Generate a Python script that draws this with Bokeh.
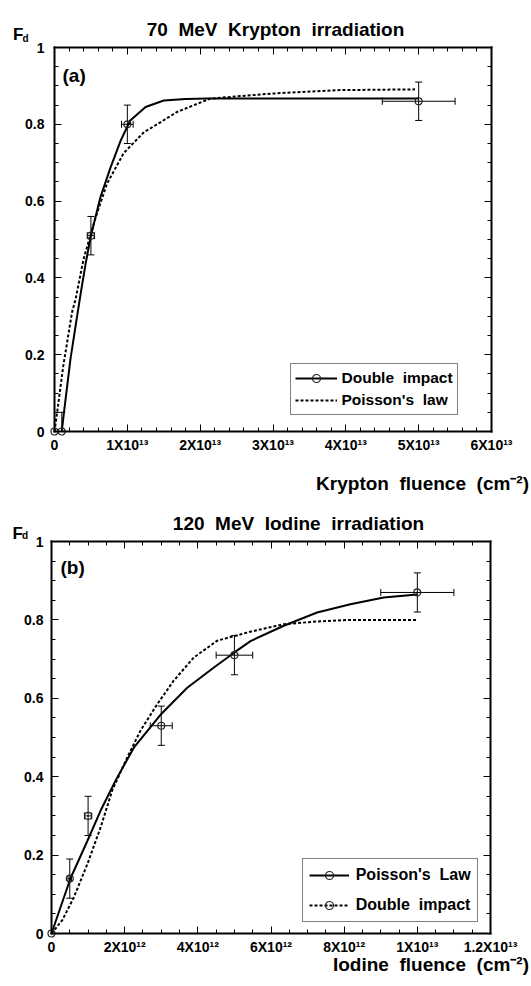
import numpy as np
from bokeh.plotting import figure
from bokeh.models import (FixedTicker, LinearAxis, Label, Legend, LegendItem,
                          CustomJSTickFormatter, Range1d)
from bokeh.layouts import column
from bokeh.embed import file_html
from bokeh.resources import INLINE

FONT = "Liberation Sans"
SP = "\u00a0 "  # wide word gap of the original lettering

# ---------------- Panel (a): 70 MeV Krypton (fluence in units of 1e13 cm^-2)
kr_fluence = [0.0, 0.1, 0.5, 1.0, 5.0]
kr_fd = [0.0, 0.0, 0.51, 0.80, 0.86]
kr_fluence_err = [0.0, 0.0, 0.05, 0.08, 0.5]
kr_fd_err = [0.0, 0.05, 0.05, 0.05, 0.05]

kr_double_x = [0.10, 0.13, 0.22, 0.31, 0.36, 0.43, 0.50, 0.63, 0.77, 0.91,
               1.04, 1.25, 1.50, 1.80, 2.10, 3.00, 4.00, 5.00]
kr_double_fd = [0.0, 0.05, 0.19, 0.30, 0.36, 0.44, 0.51, 0.61, 0.688, 0.758,
                0.81, 0.845, 0.862, 0.866, 0.867, 0.867, 0.867, 0.867]

kr_poisson_x = [0.0, 0.04, 0.12, 0.24, 0.29, 0.40, 0.50, 0.56, 0.72, 0.95,
                1.23, 1.41, 1.68, 2.14, 2.98, 3.91, 4.95]
kr_poisson_fd = [0.0, 0.055, 0.17, 0.31, 0.345, 0.45, 0.515, 0.555, 0.645, 0.725,
                 0.78, 0.80, 0.832, 0.867, 0.88, 0.889, 0.891]

kr_xticks = [0, 1, 2, 3, 4, 5, 6]
kr_xtick_labels = ["0", "1X10¹³", "2X10¹³", "3X10¹³", "4X10¹³", "5X10¹³", "6X10¹³"]

# ---------------- Panel (b): 120 MeV Iodine (fluence in units of 1e12 cm^-2)
io_fluence = [0.0, 0.5, 1.0, 3.0, 5.0, 10.0]
io_fd = [0.0, 0.14, 0.30, 0.53, 0.71, 0.87]
io_fluence_err = [0.0, 0.05, 0.1, 0.3, 0.5, 1.0]
io_fd_err = [0.0, 0.05, 0.05, 0.05, 0.05, 0.05]

io_poisson_x = [0.0, 0.52, 0.98, 1.34, 1.75, 2.25, 3.0, 3.71, 4.43, 5.0,
                5.44, 6.35, 7.26, 8.17, 9.08, 10.0]
io_poisson_fd = [0.0, 0.141, 0.236, 0.313, 0.39, 0.474, 0.56, 0.627, 0.678, 0.717,
                 0.746, 0.785, 0.819, 0.84, 0.857, 0.865]

io_double_x = [0.0, 0.3, 0.61, 0.98, 1.34, 1.66, 2.07, 2.43, 2.89, 3.34,
               3.89, 4.53, 5.44, 6.35, 7.26, 8.17, 10.0]
io_double_fd = [0.0, 0.035, 0.092, 0.177, 0.27, 0.365, 0.449, 0.517, 0.585, 0.645,
                0.704, 0.747, 0.77, 0.789, 0.796, 0.80, 0.80]

io_xticks = [0, 2, 4, 6, 8, 10, 12]
io_xtick_labels = ["0", "2X10¹²", "4X10¹²", "6X10¹²", "8X10¹²", "1X10¹³", "1.2X10¹³"]

fd_ticks = [0, 0.2, 0.4, 0.6, 0.8, 1]
fd_tick_labels = ["0", "0.2", "0.4", "0.6", "0.8", "1"]
fd_minor = [round(i * 0.05, 3) for i in range(21)]

W = 531


def style_axis(ax):
    ax.axis_line_color = "black"
    ax.axis_line_width = 2
    ax.axis_line_cap = "square"
    ax.major_tick_line_color = "black"
    ax.minor_tick_line_color = "black"
    ax.major_tick_line_width = 1
    ax.minor_tick_line_width = 1
    ax.major_tick_in = 7
    ax.major_tick_out = 0
    ax.minor_tick_in = 4
    ax.minor_tick_out = 0
    ax.major_label_text_font = FONT
    ax.major_label_text_font_style = "bold"
    ax.major_label_text_font_size = "14px"
    ax.major_label_text_color = "black"


def build_panel(H, px_left, px_right, px_top, px_bottom, x_max, xticks, xlabels,
                xminor, ystandoff):
    # the whole canvas is the frame; the axes sit at fixed data locations
    kx = (px_right - px_left) / x_max
    ky = (px_bottom - px_top) / 1.0
    xr = Range1d(-px_left / kx, x_max + (W - px_right) / kx)
    yr = Range1d(-(H - px_bottom) / ky, 1.0 + px_top / ky)
    p = figure(width=W, height=H, x_range=xr, y_range=yr, min_border=0,
               toolbar_location=None, output_backend="svg", title=None)
    p.grid.visible = False
    p.outline_line_color = None
    xt = FixedTicker(ticks=xticks, minor_ticks=xminor)
    yt = FixedTicker(ticks=fd_ticks, minor_ticks=fd_minor)
    xa = p.xaxis[0]
    ya = p.yaxis[0]
    xa.ticker = xt
    ya.ticker = yt
    xa.major_label_overrides = dict(zip(xticks, xlabels))
    ya.major_label_overrides = dict(zip(fd_ticks, fd_tick_labels))
    for ax in (xa, ya):
        style_axis(ax)
    xa.fixed_location = 0
    ya.fixed_location = 0
    xa.bounds = (0, x_max)
    ya.bounds = (0, 1)
    xa.major_label_standoff = 5
    ya.major_label_standoff = ystandoff
    blank = CustomJSTickFormatter(code="return ''")
    top = LinearAxis(ticker=xt, formatter=blank, fixed_location=1, bounds=(0, x_max))
    style_axis(top)
    p.add_layout(top, "above")
    right = LinearAxis(ticker=yt, formatter=blank, fixed_location=x_max, bounds=(0, 1))
    style_axis(right)
    p.add_layout(right, "right")
    return p


def add_points(p, xs, ys, xerr, yerr, cap=7):
    # vertical error bars (the frame edge at F=0 cuts them, as in the original)
    vx, vlo, vhi, cx, cy = [], [], [], [], []
    for x, y, e in zip(xs, ys, yerr):
        if e <= 0:
            continue
        lo = max(0.0, y - e)
        vx.append(x)
        vlo.append(lo)
        vhi.append(y + e)
        cx.append(x)
        cy.append(y + e)
        if lo > 0:
            cx.append(x)
            cy.append(lo)
    p.segment(x0=vx, y0=vlo, x1=vx, y1=vhi, line_color="black", line_width=1)
    p.scatter(x=cx, y=cy, marker="dash", size=cap, line_color="black", line_width=1)
    hy = [y for y, e in zip(ys, xerr) if e > 0]
    hlo = [x - e for x, e in zip(xs, xerr) if e > 0]
    hhi = [x + e for x, e in zip(xs, xerr) if e > 0]
    p.segment(x0=hlo, y0=hy, x1=hhi, y1=hy, line_color="black", line_width=1)
    p.scatter(x=hlo + hhi, y=hy + hy, marker="dash", angle=np.pi / 2, size=cap,
              line_color="black", line_width=1)
    return p.scatter(x=xs, y=ys, marker="circle", size=7, fill_color=None,
                     line_color="#222222", line_width=1.2)


def txt(p, x, y, text, size, align="left"):
    p.add_layout(Label(x=x, y=y, x_units="screen", y_units="screen", text=text,
                       text_align=align, text_baseline="alphabetic", text_font=FONT,
                       text_font_style="bold", text_font_size=size, text_color="black"))


def legend(items, loc, size, gw, standoff, padding, spacing):
    return Legend(items=items, location=loc, border_line_color="black",
                  border_line_width=1, background_fill_color="white",
                  background_fill_alpha=1, label_text_font=FONT,
                  label_text_font_style="bold", label_text_font_size=size,
                  label_text_color="black", glyph_width=gw, glyph_height=20,
                  label_height=20, label_standoff=standoff, padding=padding,
                  spacing=spacing, margin=0)


# ---------------- top panel (canvas 531 x 500)
H1 = 500
p1 = build_panel(H1, 54, 491, 47, 431, 6, kr_xticks, kr_xtick_labels,
                 [round(i * 0.2, 3) for i in range(31)], 10)
kr_solid = p1.line(kr_double_x, kr_double_fd, line_color="black", line_width=2)
kr_dot = p1.line(kr_poisson_x, kr_poisson_fd, line_color="black", line_width=2,
                 line_dash="3 2")
kr_pts = add_points(p1, kr_fluence, kr_fd, kr_fluence_err, kr_fd_err)
p1.add_layout(legend([LegendItem(label="Double" + SP + "impact", renderers=[kr_solid, kr_pts]),
                      LegendItem(label="Poisson's" + SP + "law", renderers=[kr_dot])],
                     (289.5, H1 - 415), "15.5px", 42, 5, 4, 2))
txt(p1, 275, H1 - 29, "70" + SP + "MeV" + SP + "Krypton" + SP + "irradiation", "19px", "center")
txt(p1, 12.5, H1 - 34, "F", "17px")
txt(p1, 22, H1 - 37.5, "d", "10px")
txt(p1, 62, H1 - 74.5, "(a)", "19px")
txt(p1, 528.5, H1 - 483.3, "Krypton" + SP + "fluence" + SP + "(cm⁻²)", "19px", "right")

# ---------------- bottom panel (canvas 531 x 486, starts at y = 500)
H2 = 486
p2 = build_panel(H2, 51, 490, 41, 433, 12, io_xticks, io_xtick_labels,
                 [round(i * 0.5, 3) for i in range(25)], 8)
io_solid = p2.line(io_poisson_x, io_poisson_fd, line_color="black", line_width=2)
io_dot = p2.line(io_double_x, io_double_fd, line_color="black", line_width=2,
                 line_dash="3 2")
io_pts = add_points(p2, io_fluence, io_fd, io_fluence_err, io_fd_err)
p2.add_layout(legend([LegendItem(label="Poisson's" + SP + "Law", renderers=[io_solid, io_pts]),
                      LegendItem(label="Double" + SP + "impact", renderers=[io_dot, io_pts])],
                     (301.7, H2 - 421.7), "16px", 40, 7, 6, 10))
txt(p2, 298, H2 - 22.5, "120" + SP + "MeV" + SP + "Iodine" + SP + "irradiation", "19px", "center")
txt(p2, 12, H2 - 33, "F", "17px")
txt(p2, 21.5, H2 - 35, "d", "10px")
txt(p2, 60, H2 - 66.5, "(b)", "19px")
txt(p2, 528.5, H2 - 464.4, "Iodine" + SP + "fluence" + SP + "(cm⁻²)", "19px", "right")

layout = column(p1, p2)
open("out.html", "w").write(file_html(layout, INLINE))
